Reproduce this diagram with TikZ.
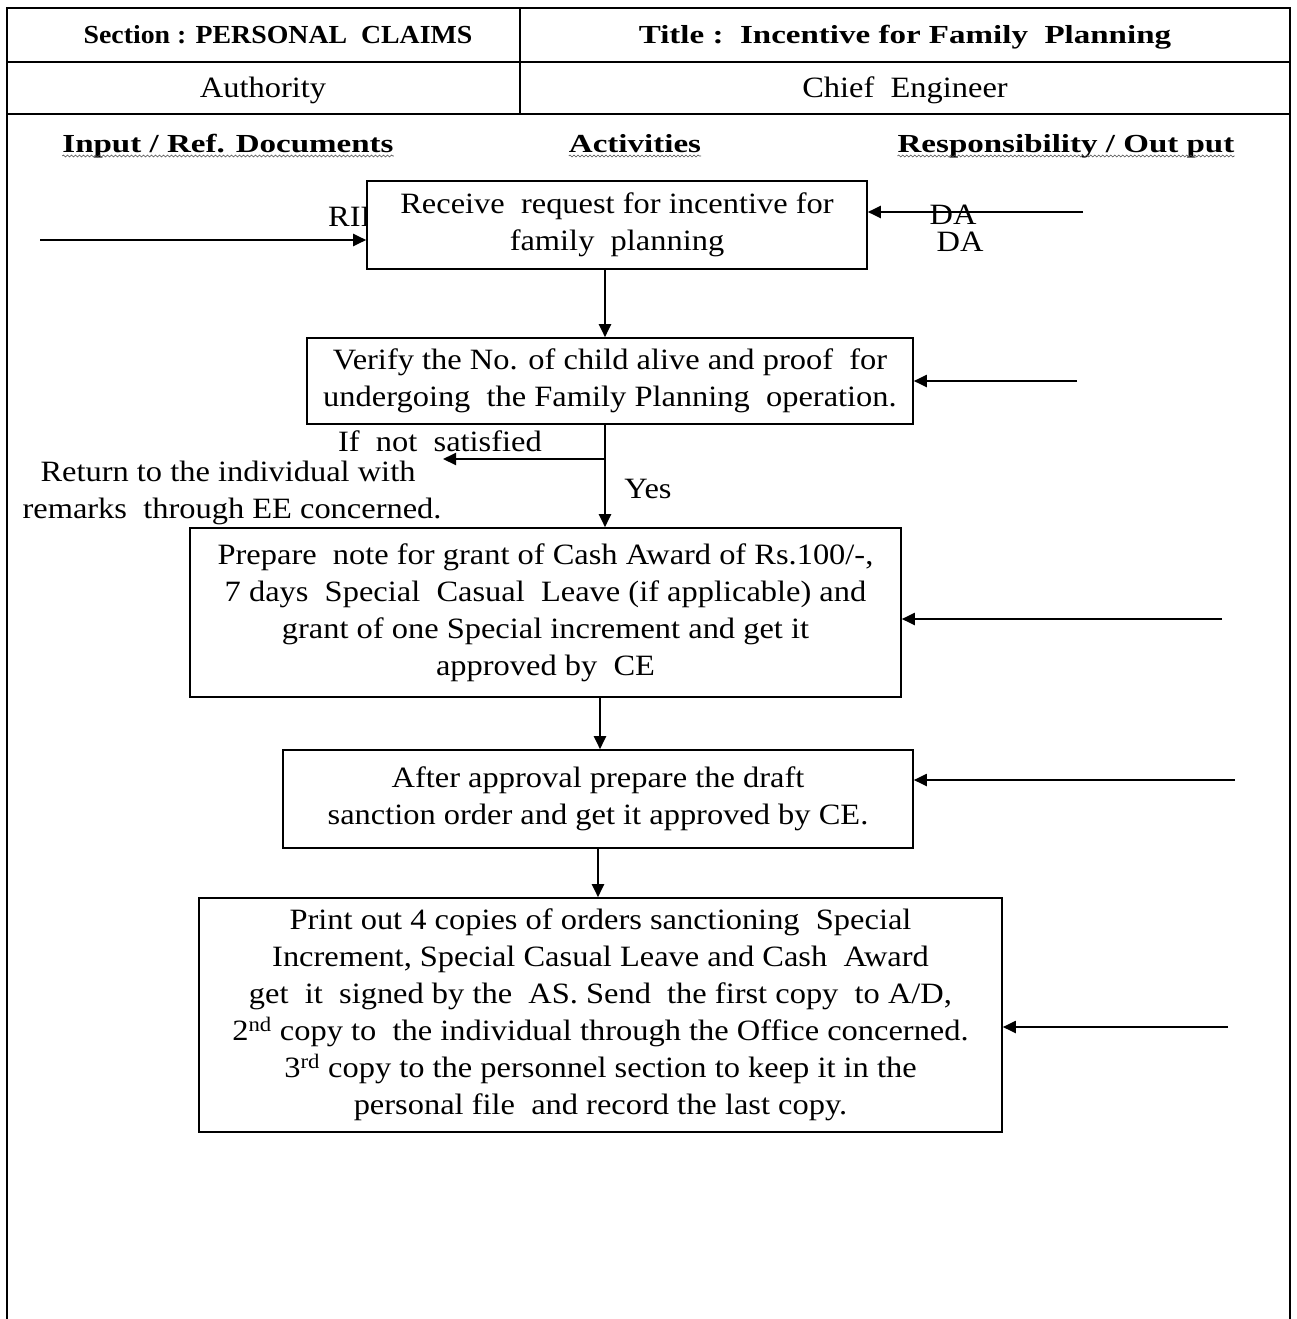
\documentclass[tikz,border=0pt]{standalone}
\usepackage{fontspec}
\setmainfont{Liberation Serif}[FakeStretch=1.1]
\newfontfamily\hdrfont{Liberation Serif}[FakeStretch=1.27]
\newfontfamily\capfont{Liberation Serif}[FakeStretch=1.07]
\usetikzlibrary{arrows.meta,decorations.pathmorphing}

\begin{document}
\begin{tikzpicture}[x=1pt,y=-1pt,
  frame/.style={line width=1.6pt},
  stepbox/.style={draw,line width=1.6pt,fill=white,align=center,inner sep=0pt,
    font=\fontsize{29.5}{37}\selectfont},
  arr/.style={line width=2pt,-{Triangle[length=13pt,width=12pt]}},
  lbl/.style={font=\fontsize{29.5}{37}\selectfont,inner sep=0pt,align=center},
  hdr/.style={font=\hdrfont\bfseries\fontsize{26}{30}\selectfont,inner sep=0pt},
  caphdr/.style={font=\capfont\bfseries\fontsize{26}{30}\selectfont,inner sep=0pt},
  cell/.style={font=\fontsize{29.5}{34}\selectfont,inner sep=0pt},
  wavy/.style={decorate,decoration={snake,amplitude=1pt,segment length=4pt},
    line width=0.6pt,draw=black!70}
]
\useasboundingbox (0,0) rectangle (1296,1319);

% table frame
\draw[frame] (7,1319) -- (7,8) -- (1290,8) -- (1290,1319);
\draw[frame] (7,62) -- (1290,62);
\draw[frame] (7,114) -- (1290,114);
\draw[frame] (520,8) -- (520,114);

% header cells
\node[caphdr,anchor=base] (sec) at (278,44) {Section : PERSONAL\ \ CLAIMS};
\node[hdr,anchor=base] (tit) at (905,44) {Title :\ \ Incentive for Family\ \ Planning};
\node[cell,anchor=base] (auth) at (263,98) {Authority};
\node[cell,anchor=base] (ce) at (905,98) {Chief\ \ Engineer};

% column headings with wavy underline
\node[hdr,anchor=base] (hin) at (228,152) {Input / Ref. Documents};
\node[hdr,anchor=base] (hact) at (635,152) {Activities};
\node[hdr,anchor=base] (hres) at (1066,152) {Responsibility / Out put};
\foreach \h in {hin,hact,hres}
  \draw[wavy] ([yshift=-4pt]\h.base west) -- ([yshift=-4pt]\h.base east);

% labels partly hidden behind the first box
\node[lbl,anchor=west] (rif) at (328,217) {RIF};
\node[lbl] (da1) at (953,215) {DA};
\node[lbl] (da2) at (960,242) {DA};

% activity boxes
\node[stepbox,minimum width=500pt,minimum height=88pt] (b1) at (617,225)
  {Receive\ \ request for incentive for\\ family\ \ planning};
\node[stepbox,minimum width=606pt,minimum height=86pt] (b2) at (610,381)
  {Verify the No. of child alive and proof\ \ for\\ undergoing\ \ the Family Planning\ \ operation.};
\node[stepbox,minimum width=711pt,minimum height=169pt] (b3) at (545.5,612.5)
  {Prepare\ \ note for grant of Cash Award of Rs.100/-,\\
   7 days\ \ Special\ \ Casual\ \ Leave (if applicable) and\\
   grant of one Special increment and get it\\
   approved by\ \ CE};
\node[stepbox,minimum width=630pt,minimum height=98pt] (b4) at (598,799)
  {After approval prepare the draft\\ sanction order and get it approved by CE.};
\node[stepbox,minimum width=803pt,minimum height=234pt] (b5) at (600.5,1015)
  {Print out 4 copies of orders sanctioning\ \ Special\\
   Increment, Special Casual Leave and Cash\ \ Award\\
   get\ \ it\ \ signed by the\ \ AS. Send\ \ the first copy\ \ to A/D,\\
   2\textsuperscript{nd} copy to\ \ the individual through the Office concerned.\\
   3\textsuperscript{rd} copy to the personnel section to keep it in the\\
   personal file\ \ and record the last copy.};

% branch labels
\node[lbl] (ns) at (440,441) {If\ \ not\ \ satisfied};
\node[lbl] (ret) at (228,493) {Return to the individual with\\ \ remarks\ \ through EE concerned.};
\node[lbl] (yes) at (648,489) {Yes};

% free ends of the connectors
\coordinate (inL) at (40,240);
\coordinate (outR1) at (1083,212);
\coordinate (outR2) at (1077,381);
\coordinate (outR3) at (1222,619);
\coordinate (outR4) at (1235,780);
\coordinate (outR5) at (1228,1027);
\coordinate (c1) at (605,0);
\coordinate (c3) at (600,0);
\coordinate (c4) at (598,0);
\coordinate (br) at (605,459);
\coordinate (brEnd) at (443,459);

% connectors
\draw[arr] (inL) -- (inL -| b1.west);
\draw[arr] (outR1) -- (outR1 -| b1.east);
\draw[arr] (b1.south -| c1) -- (b2.north -| c1);
\draw[arr] (outR2) -- (outR2 -| b2.east);
\draw[arr] (b2.south -| c1) -- (b3.north -| c1);
\draw[arr] (br) -- (brEnd);
\draw[arr] (outR3) -- (outR3 -| b3.east);
\draw[arr] (b3.south -| c3) -- (b4.north -| c3);
\draw[arr] (outR4) -- (outR4 -| b4.east);
\draw[arr] (b4.south -| c4) -- (b5.north -| c4);
\draw[arr] (outR5) -- (outR5 -| b5.east);
\end{tikzpicture}
\end{document}
